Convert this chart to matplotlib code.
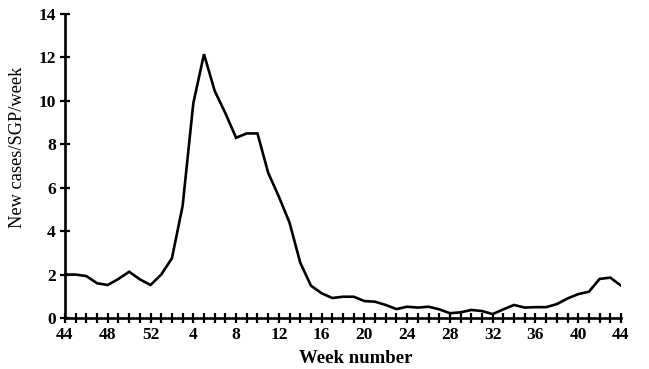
import matplotlib
matplotlib.use("Agg")
import matplotlib.pyplot as plt
import numpy as np

# week sequence: 44..52, then 1..44
weeks = list(range(44, 53)) + list(range(1, 45))
cases = [2.0, 2.0, 1.93, 1.6, 1.52, 1.8, 2.13, 1.78, 1.52, 2.0,
         2.75, 5.16, 9.89, 12.15, 10.46, 9.43, 8.3, 8.5, 8.5, 6.69,
         5.59, 4.39, 2.55, 1.49, 1.14, 0.92, 0.98, 0.98, 0.78, 0.75,
         0.6, 0.41, 0.52, 0.48, 0.52, 0.4, 0.22, 0.26, 0.37, 0.32,
         0.18, 0.4, 0.6, 0.48, 0.5, 0.5, 0.64, 0.9, 1.1, 1.21,
         1.8, 1.86, 1.49]
tick_labels = ["44", "48", "52", "4", "8", "12", "16", "20", "24", "28", "32", "36", "40", "44"]
y_ticks = [0, 2, 4, 6, 8, 10, 12, 14]

plt.rcParams['font.family'] = ['Liberation Serif', 'DejaVu Serif']

fig = plt.figure(figsize=(6.49, 3.69), dpi=100)
ax = fig.add_axes([65/649, 1-318/369, (621-65)/649, (318-14)/369])

x = np.arange(len(weeks))
ax.plot(x, cases, color='black', lw=1.9, solid_joinstyle='miter')

ax.set_xlim(0, len(weeks)-1)
ax.set_ylim(0, 14)
ax.spines['top'].set_visible(False)
ax.spines['right'].set_visible(False)
ax.spines['left'].set_linewidth(1.9)
ax.spines['bottom'].set_linewidth(1.9)

ax.set_xticks(x, minor=True)
ax.set_xticks(np.arange(0, len(weeks), 4))
ax.set_xticklabels(tick_labels)
ax.set_yticks(y_ticks)
ax.tick_params(axis='x', which='both', direction='inout', length=7, width=1.6, labelsize=12.5, pad=3)
ax.tick_params(axis='y', which='both', direction='inout', length=7, width=1.6, labelsize=12.5, pad=3)
for lab in ax.get_xticklabels() + ax.get_yticklabels():
    lab.set_fontweight('bold')

ax.set_xlabel("Week number", fontsize=13.5, fontweight='bold')
ax.xaxis.set_label_coords(0.523, -0.105)
ax.set_ylabel("New cases/SGP/week", fontsize=13.2)
ax.yaxis.set_label_coords(-0.07, 0.561)

fig.savefig("out.png", dpi=100)
